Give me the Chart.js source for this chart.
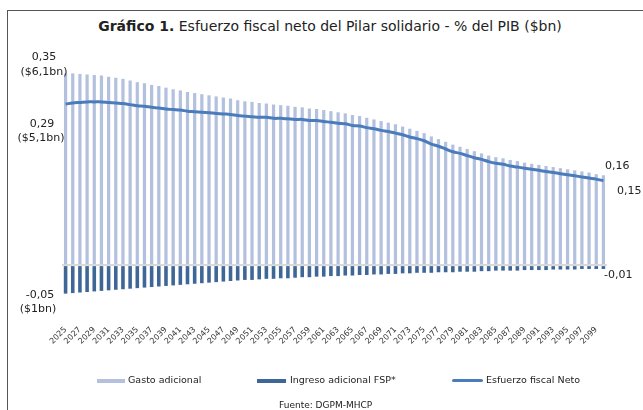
<!DOCTYPE html>
<html>
<head>
<meta charset="utf-8">
<script src="https://cdn.jsdelivr.net/npm/chart.js@4"></script>
<style>
  body { margin: 0; background: #fff; font-family: "DejaVu Sans", Verdana, sans-serif; color: #222; }
  #wrap { position: relative; width: 643px; height: 410px; overflow: hidden; }
  #frame { position: absolute; left: 7px; top: 10px; width: 700px; height: 500px; border-top: 1px solid #555; border-left: 1px solid #555; }
  #title { position: absolute; left: 0; width: 660px; top: 18px; text-align: center; font-size: 14px; white-space: nowrap; }
  #chart { position: absolute; left: 0; top: 0; }
  .lg { position: absolute; top: 374px; font-size: 9.5px; white-space: nowrap; }
  .sw { position: absolute; top: 379px; height: 4px; }
  #src { position: absolute; left: 279px; top: 400px; font-size: 9px; }
</style>
</head>
<body>
<div id="wrap">
  <div id="frame"></div>
  <div id="title"><b>Gráfico 1.</b> Esfuerzo fiscal neto del Pilar solidario - % del PIB ($bn)</div>
  <canvas id="chart" width="643" height="410"></canvas>
  <div class="sw" style="left:97px;width:28px;background:#b3c1df"></div>
  <div class="lg" style="left:128px">Gasto adicional</div>
  <div class="sw" style="left:257px;width:29px;background:#3e6697"></div>
  <div class="lg" style="left:290px">Ingreso adicional FSP*</div>
  <div class="sw" style="left:452px;width:31px;top:379px;height:3px;background:#4a7bbb;border-radius:2px"></div>
  <div class="lg" style="left:486px">Esfuerzo fiscal Neto</div>
  <div id="src">Fuente: DGPM-MHCP</div>
</div>
<script>
// años 2025 - 2100
const years = [];
for (let y = 2025; y <= 2100; y++) years.push(String(y));

// gasto adicional (% PIB)
const gasto = [
  0.350, 0.350, 0.349, 0.348, 0.347, 0.346, 0.344, 0.342, 0.340, 0.337,
  0.334, 0.332, 0.329, 0.327, 0.324, 0.321, 0.319, 0.316, 0.314, 0.312,
  0.310, 0.308, 0.306, 0.304, 0.301, 0.299, 0.298, 0.296, 0.295, 0.293,
  0.292, 0.291, 0.289, 0.288, 0.286, 0.285, 0.283, 0.281, 0.279, 0.277,
  0.274, 0.272, 0.269, 0.266, 0.263, 0.260, 0.257, 0.253, 0.249, 0.245,
  0.241, 0.235, 0.230, 0.225, 0.220, 0.216, 0.212, 0.208, 0.204, 0.200,
  0.197, 0.195, 0.192, 0.190, 0.187, 0.185, 0.183, 0.181, 0.179, 0.177,
  0.175, 0.173, 0.171, 0.169, 0.166, 0.164
];

// ingreso adicional FSP (% PIB)
const ingreso = [
  -0.052, -0.051, -0.050, -0.049, -0.048, -0.047, -0.046, -0.045, -0.044, -0.043,
  -0.042, -0.041, -0.040, -0.039, -0.038, -0.037, -0.036, -0.035, -0.034, -0.033,
  -0.032, -0.031, -0.030, -0.029, -0.028, -0.027, -0.027, -0.026, -0.025, -0.025,
  -0.024, -0.024, -0.023, -0.022, -0.022, -0.021, -0.021, -0.020, -0.020, -0.019,
  -0.019, -0.018, -0.018, -0.017, -0.017, -0.016, -0.016, -0.015, -0.015, -0.014,
  -0.014, -0.014, -0.013, -0.013, -0.013, -0.012, -0.012, -0.012, -0.011, -0.011,
  -0.010, -0.010, -0.010, -0.010, -0.009, -0.009, -0.009, -0.009, -0.008, -0.008,
  -0.008, -0.008, -0.007, -0.007, -0.007, -0.007
];

// esfuerzo fiscal neto (% PIB)
const neto = [
  0.294, 0.296, 0.297, 0.298, 0.298, 0.298, 0.297, 0.296, 0.295, 0.293,
  0.291, 0.290, 0.288, 0.287, 0.285, 0.284, 0.283, 0.281, 0.280, 0.279,
  0.278, 0.277, 0.276, 0.275, 0.273, 0.272, 0.271, 0.270, 0.270, 0.268,
  0.268, 0.267, 0.266, 0.266, 0.264, 0.264, 0.262, 0.261, 0.259, 0.258,
  0.255, 0.254, 0.251, 0.249, 0.246, 0.244, 0.241, 0.238, 0.234, 0.231,
  0.227, 0.221, 0.217, 0.212, 0.207, 0.204, 0.200, 0.196, 0.193, 0.189,
  0.186, 0.184, 0.181, 0.179, 0.177, 0.175, 0.173, 0.171, 0.169, 0.167,
  0.165, 0.163, 0.161, 0.159, 0.157, 0.154
];

const fmt = v => v.toFixed(2).replace('.', ',');

// etiquetas de valores en los extremos
const endLabels = {
  id: 'endLabels',
  afterDraw(chart) {
    const ctx = chart.ctx;
    const y = chart.scales.y;
    const last = years.length - 1;
    ctx.save();
    ctx.fillStyle = '#222';
    ctx.font = '11px "DejaVu Sans"';
    ctx.textBaseline = 'middle';
    ctx.textAlign = 'center';
    let p = y.getPixelForValue(gasto[0]);
    ctx.fillText(fmt(gasto[0]), 44, p - 16);
    ctx.fillText('($6,1bn)', 44, p - 1);
    p = y.getPixelForValue(neto[0]);
    ctx.fillText(fmt(neto[0]), 42, p + 20);
    ctx.fillText('($5,1bn)', 41, p + 34);
    p = y.getPixelForValue(ingreso[0]);
    ctx.fillText(fmt(ingreso[0]), 40, p + 2);
    ctx.fillText('($1bn)', 38, p + 16);
    ctx.textAlign = 'left';
    ctx.fillText(fmt(gasto[last]), 605, y.getPixelForValue(gasto[last]) - 9);
    ctx.fillText(fmt(neto[last]), 617, y.getPixelForValue(neto[last]) + 10);
    ctx.fillText(fmt(ingreso[last]), 604, y.getPixelForValue(ingreso[last]) + 6);
    ctx.restore();
  }
};

new Chart(document.getElementById('chart'), {
  type: 'bar',
  data: {
    labels: years,
    datasets: [
      {
        type: 'line',
        label: 'Esfuerzo fiscal Neto',
        data: neto,
        borderColor: '#4a7bbb',
        borderWidth: 3,
        pointRadius: 0,
        tension: 0.4,
        fill: false,
        order: 0
      },
      {
        label: 'Gasto adicional',
        data: gasto,
        backgroundColor: '#b3c1df',
        barPercentage: 0.45,
        categoryPercentage: 1,
        order: 1
      },
      {
        label: 'Ingreso adicional FSP*',
        data: ingreso,
        backgroundColor: '#3e6697',
        barPercentage: 0.5,
        categoryPercentage: 1,
        order: 2
      }
    ]
  },
  options: {
    responsive: false,
    animation: false,
    layout: { padding: { left: 62, right: 36, top: 46, bottom: 60 } },
    plugins: { legend: { display: false }, tooltip: { enabled: false } },
    scales: {
      x: {
        stacked: true,
        grid: { display: false, drawTicks: false },
        border: { display: false },
        ticks: {
          autoSkip: false,
          maxRotation: 45,
          minRotation: 45,
          padding: 27,
          color: '#333',
          font: { family: 'DejaVu Sans', size: 8 },
          callback: (v, i) => (i % 2 === 0 ? years[i] : '')
        },
        afterFit: s => { s.height = 52; s.paddingLeft = 0; s.paddingRight = 0; }
      },
      y: {
        min: -0.06,
        max: 0.40,
        ticks: { display: false },
        border: { display: false },
        grid: {
          drawTicks: false,
          lineWidth: 2,
          color: c => (c.tick.value === 0 ? '#d9d9d9' : 'rgba(0,0,0,0)')
        },
        afterFit: s => { s.width = 0; }
      }
    }
  },
  plugins: [endLabels]
});
</script>
</body>
</html>
